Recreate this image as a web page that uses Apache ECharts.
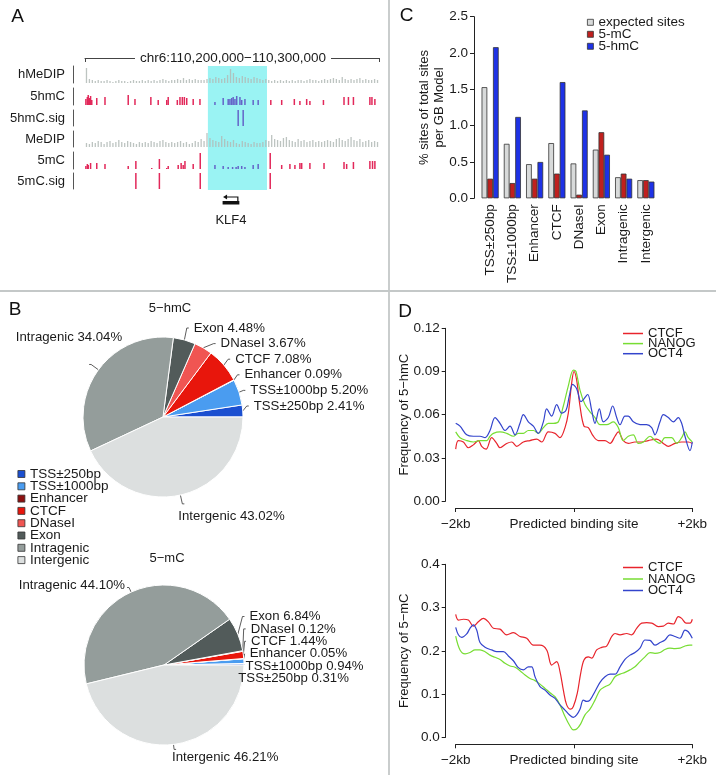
<!DOCTYPE html>
<html><head><meta charset="utf-8">
<script src="https://cdn.jsdelivr.net/npm/echarts@6/dist/echarts.min.js"></script>
<style>html,body{margin:0;padding:0;background:#fff}#main{width:716px;height:775px}</style>
</head><body><div id="main"></div>
<script>
// ================= DATA =================
// Panel A: genome browser, positions in kb from chr6:110,200,000
const regionLabel = 'chr6:110,200,000\u2212110,300,000';
const trackSpanKb = [0, 100];
const highlightKb = [41.8, 61.9];
const hMeDIP = [15,4,3,2,3,2,2,3,2,1, 2,3,2,2,1,2,3,2,2,3, 2,3,2,3,2,3,4,3,2,3, 3,4,3,5,3,4,3,4,3,3,
  3,4,5,4,6,5,4,5,8,14, 10,6,5,7,6,5,4,6,5,4, 3,4,3,2,3,2,3,2,3,2, 3,2,3,3,2,3,4,3,3,2,
  3,4,3,4,5,4,3,6,4,3, 4,3,4,5,3,4,3,3,4,3];
const MeDIP = [4,3,5,4,6,5,3,5,6,4, 5,7,5,4,6,5,4,3,5,4, 5,4,6,5,4,6,7,5,4,5, 4,5,6,4,5,3,4,6,5,8,
  6,14,9,7,6,5,11,8,6,5, 7,4,3,6,5,4,3,5,4,4, 5,7,6,12,8,7,6,9,10,7, 6,5,8,6,7,5,6,7,5,6,
  5,6,7,6,5,8,9,7,6,8, 10,7,6,8,5,6,7,5,6,5];
const hmcSites = [[0.3,6],[0.8,8],[1.1,10],[1.5,7],[1.9,9],[2.3,5],[4.0,7],[6.8,8],[14.7,10],[17.0,6],
  [22.4,8],[24.9,5],[27.8,5],[28.3,8],[31.4,5],[32.3,8],[33.1,8],[33.8,8],[34.6,7],[36.8,6],[39.1,6],
  [44.2,3],[47.0,7],[48.7,6],[49.3,6],[49.9,7],[50.4,8],[51.0,6],[51.6,9],[52.7,8],[53.3,5],[54.4,6],[57.2,5],[58.9,5],
  [63.2,5],[66.9,5],[71.2,6],[73.1,4],[75.4,6],[76.5,4],[81.1,5],[88.1,8],[89.6,8],[91.3,8],[96.9,8],[97.6,8],[98.6,6]];
const hmcSig = [52.1, 53.8];
const mcSites = [[0.3,3],[0.8,5],[1.1,4],[1.9,6],[4.0,6],[6.8,5],[14.7,3],[17.3,8],[22.7,1],[25.3,10],[27.8,1],[28.3,3],
  [31.7,4],[32.7,6],[33.4,4],[34.0,8],[36.8,5],[39.2,16],
  [44.2,4],[47.0,3],[48.7,2],[50.2,2],[51.4,2],[52.1,3],[53.3,3],[54.4,2],[57.2,4],[58.9,5],
  [63.0,16],[66.9,4],[69.7,5],[71.4,4],[73.1,6],[73.7,6],[76.5,6],[81.3,6],[88.1,7],[89.0,5],[91.3,7],[96.9,8],[97.8,8],[98.6,8]];
const mcSig = [17.3, 25.3, 39.2, 63.0];
const geneKLF4 = ['KLF4', 46.8, 52.5];

// Panel C
const featureCats = ['TSS\u00b1250bp','TSS\u00b11000bp','Enhancer','CTCF','DNaseI','Exon','Intragenic','Intergenic'];
const expectedPct = [1.53,0.75,0.47,0.76,0.48,0.67,0.29,0.25];
const mcPct = [0.27,0.21,0.27,0.34,0.05,0.91,0.34,0.25];
const hmcPct = [2.08,1.12,0.50,1.60,1.21,0.60,0.27,0.23];

// Panel B
const hmcPie = [2.41,5.20,0.09,7.08,3.67,4.48,34.04,43.02];
const mcPie = [0.31,0.94,0.05,1.44,0.12,6.84,44.10,46.21];

// Panel D (position in bp, frequency)
const hmcCTCF = [[-2000,0.036],[-1955,0.042],[-1870,0.041],[-1786,0.037],[-1701,0.039],[-1617,0.042],[-1561,0.038],[-1487,0.036],[-1392,0.044],[-1307,0.040],[-1251,0.037],[-1138,0.040],[-1053,0.041],[-969,0.038],[-856,0.041],[-744,0.042],[-631,0.043],[-546,0.041],[-434,0.048],[-321,0.047],[-237,0.044],[-152,0.051],[-96,0.061],[-39,0.082],[0,0.090],[45,0.084],[101,0.066],[169,0.052],[242,0.051],[327,0.045],[411,0.042],[524,0.042],[609,0.040],[693,0.045],[749,0.048],[834,0.042],[918,0.040],[1031,0.041],[1144,0.041],[1256,0.042],[1397,0.043],[1510,0.040],[1594,0.038],[1707,0.040],[1820,0.041],[1932,0.041],[2000,0.040]];
const hmcNANOG = [[-2000,0.048],[-1927,0.044],[-1814,0.042],[-1701,0.041],[-1589,0.042],[-1476,0.042],[-1420,0.045],[-1363,0.047],[-1251,0.048],[-1138,0.047],[-1025,0.045],[-941,0.047],[-856,0.047],[-772,0.049],[-687,0.049],[-603,0.047],[-518,0.051],[-434,0.054],[-349,0.054],[-265,0.055],[-180,0.066],[-96,0.080],[-11,0.091],[34,0.090],[101,0.077],[186,0.067],[270,0.062],[355,0.058],[440,0.053],[552,0.053],[665,0.055],[749,0.051],[834,0.042],[918,0.045],[1003,0.046],[1087,0.040],[1172,0.041],[1285,0.045],[1369,0.042],[1454,0.040],[1538,0.044],[1651,0.044],[1735,0.040],[1820,0.044],[1876,0.048],[1932,0.044],[2000,0.041]];
const hmcOCT4 = [[-2000,0.054],[-1927,0.052],[-1814,0.046],[-1701,0.045],[-1589,0.045],[-1504,0.044],[-1420,0.049],[-1335,0.058],[-1251,0.054],[-1166,0.049],[-1082,0.052],[-997,0.046],[-913,0.054],[-856,0.060],[-772,0.055],[-687,0.052],[-603,0.047],[-518,0.055],[-462,0.064],[-377,0.059],[-293,0.067],[-208,0.061],[-135,0.063],[-79,0.073],[-23,0.081],[45,0.078],[118,0.069],[169,0.071],[231,0.074],[299,0.063],[355,0.054],[428,0.064],[496,0.055],[580,0.058],[654,0.066],[721,0.058],[778,0.053],[862,0.059],[918,0.059],[1003,0.055],[1116,0.053],[1228,0.053],[1313,0.051],[1369,0.046],[1454,0.055],[1510,0.060],[1594,0.058],[1679,0.055],[1763,0.058],[1820,0.054],[1876,0.045],[1961,0.035],[2000,0.041]];
const mcCTCF = [[-2000,0.284],[-1955,0.271],[-1870,0.273],[-1786,0.271],[-1701,0.257],[-1617,0.267],[-1532,0.275],[-1448,0.267],[-1363,0.252],[-1251,0.250],[-1138,0.237],[-1025,0.242],[-913,0.233],[-800,0.229],[-687,0.213],[-575,0.213],[-462,0.202],[-377,0.167],[-293,0.175],[-237,0.152],[-180,0.109],[-124,0.075],[-56,0.065],[-11,0.071],[56,0.102],[113,0.148],[169,0.179],[242,0.186],[299,0.183],[383,0.202],[468,0.208],[552,0.211],[637,0.233],[693,0.240],[778,0.237],[890,0.240],[975,0.237],[1059,0.252],[1144,0.264],[1228,0.265],[1313,0.264],[1425,0.256],[1510,0.257],[1594,0.264],[1679,0.262],[1763,0.279],[1820,0.275],[1893,0.264],[1961,0.264],[2000,0.273]];
const mcNANOG = [[-2000,0.234],[-1927,0.202],[-1842,0.193],[-1758,0.196],[-1673,0.202],[-1589,0.202],[-1504,0.198],[-1420,0.190],[-1335,0.185],[-1251,0.180],[-1166,0.171],[-1082,0.165],[-997,0.162],[-913,0.154],[-828,0.144],[-744,0.136],[-659,0.131],[-575,0.123],[-490,0.113],[-406,0.103],[-321,0.094],[-237,0.075],[-152,0.048],[-68,0.026],[-11,0.017],[45,0.019],[113,0.031],[186,0.052],[270,0.065],[355,0.086],[440,0.109],[524,0.117],[609,0.123],[693,0.140],[778,0.146],[862,0.150],[947,0.156],[1031,0.163],[1116,0.175],[1200,0.186],[1285,0.196],[1369,0.194],[1454,0.196],[1538,0.203],[1622,0.206],[1707,0.205],[1792,0.206],[1876,0.211],[1961,0.213],[2000,0.213]];
const mcOCT4 = [[-2000,0.254],[-1955,0.237],[-1899,0.231],[-1814,0.239],[-1758,0.252],[-1701,0.260],[-1645,0.248],[-1589,0.219],[-1504,0.208],[-1392,0.202],[-1307,0.198],[-1194,0.198],[-1110,0.188],[-1025,0.177],[-941,0.161],[-856,0.156],[-772,0.163],[-715,0.163],[-659,0.140],[-575,0.117],[-490,0.109],[-406,0.098],[-321,0.090],[-237,0.075],[-152,0.063],[-79,0.052],[-11,0.046],[45,0.052],[101,0.065],[158,0.086],[214,0.083],[270,0.086],[355,0.106],[440,0.127],[524,0.140],[609,0.146],[693,0.146],[778,0.163],[862,0.180],[947,0.190],[1031,0.196],[1116,0.206],[1200,0.225],[1285,0.224],[1369,0.213],[1454,0.219],[1538,0.225],[1622,0.237],[1707,0.233],[1792,0.229],[1876,0.248],[1932,0.244],[2000,0.229]];
const dTickLabels = ['\u22122kb','Predicted binding site','+2kb'];

// ================= STYLE =================
const FONT = 'Liberation Sans';
const TXT = '#1a1a1a';
const pieColors = ['#1b4fd0','#4a9cf0','#8c1010','#e8160c','#f05552','#525b5a','#949d9b','#dcdfdf'];
const barColors = ['#d8dada','#c0201e','#1e32e6'];
const lineColors = ['#e8242c','#77dd33','#3344cc'];
const siteRed = '#e2285a', siteBlue = '#6464c8', histGray = '#b2bab6';
const inRegion = kb => kb >= highlightKb[0] && kb <= highlightKb[1];

const chart = echarts.init(document.getElementById('main'));

const grids = [], xAxes = [], yAxes = [], series = [];
// --- Panel A ---
const A_LEFT = 85, A_W = 294;
grids.push({left:A_LEFT, top:66, width:A_W, height:124});
xAxes.push({gridIndex:0, type:'value', min:trackSpanKb[0], max:trackSpanKb[1], interval:100, position:'top', offset:8,
  axisLine:{show:true, onZero:false, lineStyle:{color:'#444', width:1}}, axisTick:{show:true, inside:true, length:4, lineStyle:{color:'#444'}},
  axisLabel:{show:false}, splitLine:{show:false}});
yAxes.push({gridIndex:0, type:'value', show:false, min:0, max:1});
series.push({type:'line', xAxisIndex:0, yAxisIndex:0, data:[], z:0, silent:true,
  markArea:{silent:true, itemStyle:{color:'#9af3f3'}, data:[[{xAxis:highlightKb[0]},{xAxis:highlightKb[1]}]]}});

const tracks = [
  {name:'hMeDIP', top:66, height:17, max:17, kind:'hist', data:hMeDIP},
  {name:'5hmC', top:88, height:17, max:17, kind:'sites', data:hmcSites},
  {name:'5hmC.sig', top:110, height:16, max:1, kind:'sig', data:hmcSig},
  {name:'MeDIP', top:131, height:16, max:16, kind:'hist', data:MeDIP},
  {name:'5mC', top:152, height:17, max:17, kind:'sites', data:mcSites},
  {name:'5mC.sig', top:173, height:16, max:1, kind:'sig', data:mcSig}
];
tracks.forEach((t, k) => {
  const gi = grids.length;
  grids.push({left:A_LEFT, top:t.top, width:A_W, height:t.height});
  xAxes.push({gridIndex:gi, type:'value', min:trackSpanKb[0], max:trackSpanKb[1], show:false});
  yAxes.push({gridIndex:gi, type:'value', min:0, max:t.max, offset:12,
    axisLine:{show:true, onZero:false, lineStyle:{color:'#555', width:1}}, axisTick:{show:false}, axisLabel:{show:false}, splitLine:{show:false},
    name:t.name, nameLocation:'middle', nameRotate:0, nameGap:8, nameMoveOverlap:false,
    nameTextStyle:{fontSize:13, color:TXT, fontFamily:FONT, align:'right', verticalAlign:'middle'}});
  let data;
  if (t.kind === 'hist') data = t.data.map((v, i) => [i + 0.5, v]);
  else if (t.kind === 'sites') data = t.data.map(d => [d[0], d[1]]);
  else data = t.data.map(x => [x, 1]);
  series.push({type:'bar', xAxisIndex:gi, yAxisIndex:gi, data, z:5, silent:true,
    barWidth: t.kind === 'hist' ? 1.3 : 1.5,
    itemStyle:{color: t.kind === 'hist' ? histGray : (p => inRegion(p.value[0]) ? siteBlue : siteRed), opacity: t.kind === 'hist' ? 0.85 : 1}});
});
// gene track
{
  const gi = grids.length;
  grids.push({left:A_LEFT, top:196, width:A_W, height:10});
  xAxes.push({gridIndex:gi, type:'value', min:trackSpanKb[0], max:trackSpanKb[1], show:false});
  yAxes.push({gridIndex:gi, type:'value', min:0, max:1, show:false});
  series.push({type:'custom', xAxisIndex:gi, yAxisIndex:gi, data:[[geneKLF4[1], geneKLF4[2]]], silent:true, clip:false,
    renderItem:(params, api) => {
      const a = api.coord([api.value(0), 0.5]), b = api.coord([api.value(1), 0.5]);
      const y0 = a[1];
      return {type:'group', children:[
        {type:'rect', shape:{x:a[0], y:y0, width:b[0]-a[0], height:3.5}, style:{fill:'#111'}},
        {type:'polyline', shape:{points:[[b[0]-1.5,y0],[b[0]-1.5,y0-4],[a[0]+4,y0-4]]}, style:{stroke:'#111', lineWidth:1.2, fill:null}},
        {type:'polygon', shape:{points:[[a[0]+0.5,y0-4],[a[0]+4.5,y0-6.5],[a[0]+4.5,y0-1.5]]}, style:{fill:'#111'}},
        {type:'text', style:{text:geneKLF4[0], x:(a[0]+b[0])/2, y:y0+13, align:'center', verticalAlign:'top', fontSize:13, fontFamily:FONT, fill:TXT}}
      ]};
    }});
}

// --- Panel C ---
{
  const gi = grids.length;
  grids.push({left:479, top:16.7, width:178, height:181.6});
  xAxes.push({gridIndex:gi, type:'category', data:featureCats, axisLine:{show:false}, axisTick:{show:false},
    axisLabel:{rotate:90, margin:6, fontSize:13.5, color:TXT, fontFamily:FONT, interval:0}});
  yAxes.push({gridIndex:gi, type:'value', min:0, max:2.5, interval:0.5, offset:5,
    axisLine:{show:true, onZero:false, lineStyle:{color:'#222', width:1}}, axisTick:{show:true, length:4, lineStyle:{color:'#222'}},
    axisLabel:{formatter:v => v.toFixed(1), fontSize:13.5, color:TXT, fontFamily:FONT, margin:6}, splitLine:{show:false},
    name:'% sites of total sites\nper GB Model', nameLocation:'middle', nameRotate:90, nameGap:27.5, nameMoveOverlap:false,
    nameTextStyle:{fontSize:13, lineHeight:14.5, color:TXT, fontFamily:FONT}});
  [['expected sites', expectedPct], ['5-mC', mcPct], ['5-hmC', hmcPct]].forEach((s, k) => {
    series.push({type:'bar', name:s[0], xAxisIndex:gi, yAxisIndex:gi, data:s[1], barWidth:5.7, barGap:'0%', silent:true,
      itemStyle:{color:barColors[k], borderColor:'#333', borderWidth:0.8}});
  });
}

// --- Panel D ---
const dPanels = [
  {top:328.3, height:172.7, max:0.12, interval:0.03, dec:2, name:'Frequency of 5\u2212hmC', prefix:'hmC', sets:[hmcCTCF,hmcNANOG,hmcOCT4]},
  {top:564.3, height:173, max:0.4, interval:0.1, dec:1, name:'Frequency of 5\u2212mC', prefix:'mC', sets:[mcCTCF,mcNANOG,mcOCT4]}
];
const dNames = ['CTCF','NANOG','OCT4'];
dPanels.forEach(p => {
  const gi = grids.length;
  grids.push({left:455.7, top:p.top, width:236.6, height:p.height});
  xAxes.push({gridIndex:gi, type:'value', min:-2000, max:2000, interval:2000, offset:7,
    axisLine:{show:true, onZero:false, lineStyle:{color:'#222', width:1}}, axisTick:{show:true, length:4, lineStyle:{color:'#222'}},
    axisLabel:{formatter:v => dTickLabels[Math.round((v + 2000) / 2000)], fontSize:13.5, color:TXT, fontFamily:FONT, margin:9, showMinLabel:true, showMaxLabel:true},
    splitLine:{show:false}});
  yAxes.push({gridIndex:gi, type:'value', min:0, max:p.max, interval:p.interval, offset:10,
    axisLine:{show:true, onZero:false, lineStyle:{color:'#222', width:1}}, axisTick:{show:true, length:4, lineStyle:{color:'#222'}},
    axisLabel:{formatter:v => v.toFixed(p.dec), fontSize:13.5, color:TXT, fontFamily:FONT, margin:6}, splitLine:{show:false},
    name:p.name, nameLocation:'middle', nameRotate:90, nameGap:35, nameMoveOverlap:false,
    nameTextStyle:{fontSize:13, color:TXT, fontFamily:FONT}});
  p.sets.forEach((d, k) => {
    series.push({type:'line', name:p.prefix + ':' + dNames[k], xAxisIndex:gi, yAxisIndex:gi, data:d, symbol:'none', smooth:0.35,
      silent:true, lineStyle:{color:lineColors[k], width:1.2}, itemStyle:{color:lineColors[k]}});
  });
});

// --- Panel B pies ---
// label placement: right-hand labels (first 6 categories) stacked; extra text offsets for the big slices
const pieLabelCfg = [
  {stackBase:-11, step:15.6, lineLen:9, shift:{6:[38,-27], 7:[-11,12]}},
  {stackBase:13.5, step:12.4, lineLen:5, shift:{6:[3,-2], 7:[-9,8]}}
];
const pieSeries = (values, center, cfg) => ({
  type:'pie', center, radius:80, startAngle:0, clockwise:false, silent:true,
  data: featureCats.map((n, i) => ({name:n, value:values[i], itemStyle:{color:pieColors[i]}})),
  itemStyle:{borderColor:'#fff', borderWidth:1},
  label:{formatter:p => p.name + ' ' + p.value.toFixed(2) + '%', fontSize:13.2, color:TXT, fontFamily:FONT, width:140, overflow:'none'},
  labelLine:{length:cfg.lineLen, length2:2, lineStyle:{color:'#333', width:0.8}},
  labelLayout: params => {
    const i = params.dataIndex;
    if (cfg.shift[i]) return {dx:cfg.shift[i][0], dy:cfg.shift[i][1]};
    if (i < 6 && params.labelLinePoints) {
      const ty = center[1] + cfg.stackBase - i * cfg.step;
      const pts = params.labelLinePoints;
      return {y:ty, labelLinePoints:[pts[0], [pts[1][0], ty], [pts[2][0], ty]]};
    }
    return {};
  },
  emphasis:{disabled:true}
});
series.push(pieSeries(hmcPie, [163, 417], pieLabelCfg[0]));
series.push(pieSeries(mcPie, [164, 665], pieLabelCfg[1]));

const option = {
  animation:false,
  backgroundColor:'#fff',
  textStyle:{fontFamily:FONT, color:TXT},
  grid:grids, xAxis:xAxes, yAxis:yAxes, series,
  legend:[
    {data:featureCats, orient:'vertical', left:17.5, top:467, padding:0, itemGap:-1.7, icon:'rect', itemWidth:7, itemHeight:7,
      selectedMode:false, itemStyle:{borderColor:'#333', borderWidth:0.8}, textStyle:{fontSize:13.5, color:TXT, fontFamily:FONT}},
    {data:['expected sites','5-mC','5-hmC'], orient:'vertical', left:587, top:15.3, padding:0, itemGap:-2, icon:'rect', itemWidth:6, itemHeight:6,
      selectedMode:false, itemStyle:{borderColor:'#333', borderWidth:0.8}, textStyle:{fontSize:13.5, color:TXT, fontFamily:FONT}},
    {data:dNames.map(n => 'hmC:' + n), formatter:n => n.split(':')[1], orient:'vertical', left:623, top:327, padding:0, itemGap:-2.9,
      icon:'rect', itemWidth:20, itemHeight:1.5, selectedMode:false, textStyle:{fontSize:13, color:TXT, fontFamily:FONT}},
    {data:dNames.map(n => 'mC:' + n), formatter:n => n.split(':')[1], orient:'vertical', left:623, top:561, padding:0, itemGap:-1.5,
      icon:'rect', itemWidth:20, itemHeight:1.5, selectedMode:false, textStyle:{fontSize:13, color:TXT, fontFamily:FONT}}
  ],
  graphic:[
    {type:'line', shape:{x1:0, y1:291, x2:716, y2:291}, style:{stroke:'#c4c8c8', lineWidth:1.8}, silent:true},
    {type:'line', shape:{x1:389, y1:0, x2:389, y2:775}, style:{stroke:'#c4c8c8', lineWidth:1.8}, silent:true},
    {type:'text', x:A_LEFT + A_W / 2 + 1, y:58.3, z:100, style:{text:regionLabel, fontSize:13.5, fontFamily:FONT, fill:TXT, align:'center', verticalAlign:'middle', backgroundColor:'#fff', padding:[0,5]}},
    {type:'text', x:17.5, y:16.5, style:{text:'A', fontSize:19, fontFamily:FONT, fill:'#111', align:'center', verticalAlign:'middle'}},
    {type:'text', x:15, y:310, style:{text:'B', fontSize:19, fontFamily:FONT, fill:'#111', align:'center', verticalAlign:'middle'}},
    {type:'text', x:406.5, y:16, style:{text:'C', fontSize:19, fontFamily:FONT, fill:'#111', align:'center', verticalAlign:'middle'}},
    {type:'text', x:405, y:311.5, style:{text:'D', fontSize:19, fontFamily:FONT, fill:'#111', align:'center', verticalAlign:'middle'}},
    {type:'text', x:170, y:308, style:{text:'5\u2212hmC', fontSize:13, fontFamily:FONT, fill:TXT, align:'center', verticalAlign:'middle'}},
    {type:'text', x:167, y:558, style:{text:'5\u2212mC', fontSize:13, fontFamily:FONT, fill:TXT, align:'center', verticalAlign:'middle'}}
  ]
};
chart.setOption(option);
</script>
</body></html>
